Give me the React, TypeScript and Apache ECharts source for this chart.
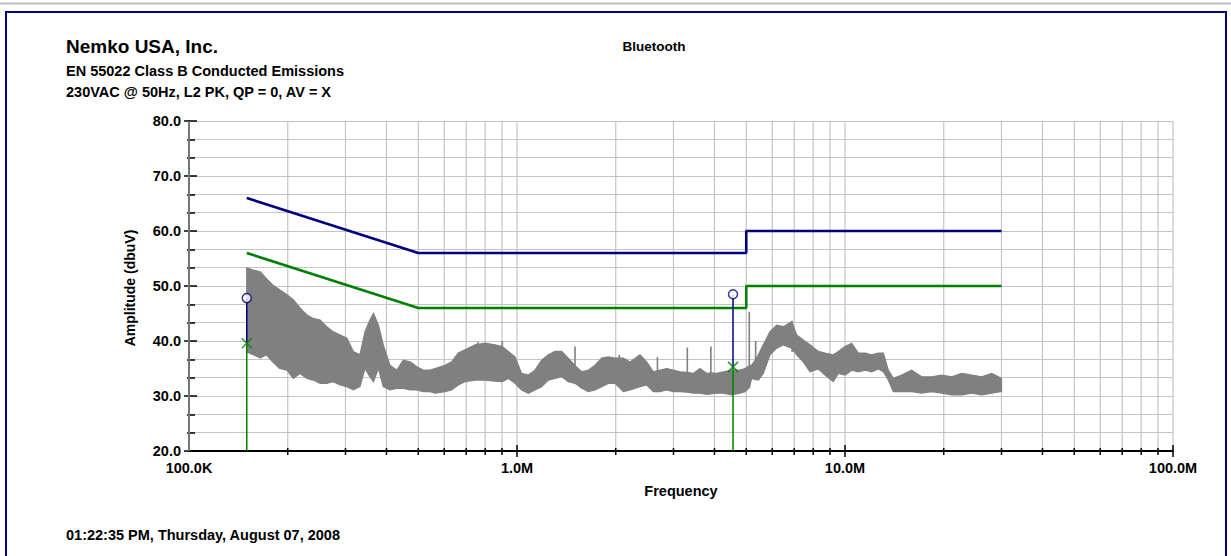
import React, { useEffect, useRef } from "react";
import * as echarts from "echarts";

const FONT = '"Liberation Sans", Arial, Helvetica, sans-serif';
const NAVY = "#000080";
const GREEN = "#008000";
const GRID = "#c4c4c4";
const TRACE = "#808080";

// Header and footer texts
const titleText = "Nemko USA, Inc.";
const subtitleLines = ["EN 55022 Class B Conducted Emissions", "230VAC @ 50Hz, L2 PK, QP = 0, AV = X"];
const centerTitle = "Bluetooth";
const footerText = "01:22:35 PM, Thursday, August 07, 2008";
const yAxisName = "Amplitude (dbuV)";
const xAxisName = "Frequency";

// Frequency axis (Hz), log scale
const xMin = 1e5;
const xMax = 1e8;
const xTickValues = [1e5, 1e6, 1e7, 1e8];
const xTickLabels = ["100.0K", "1.0M", "10.0M", "100.0M"];
const xGridFreqs = [
  1e5, 2e5, 3e5, 4e5, 5e5, 6e5, 7e5, 8e5, 9e5,
  1e6, 2e6, 3e6, 4e6, 5e6, 6e6, 7e6, 8e6, 9e6,
  1e7, 2e7, 3e7, 4e7, 5e7, 6e7, 7e7, 8e7, 9e7,
  1e8,
];

// Amplitude axis (dBuV)
const yMin = 20;
const yMax = 80;
const yStep = 10;

// EN 55022 Class B limits: quasi-peak and average
const qpLimitFreq = [150000, 500000, 5000000, 5000000, 30000000];
const qpLimitLevel = [66, 56, 56, 60, 60];
const avLimitFreq = [150000, 500000, 5000000, 5000000, 30000000];
const avLimitLevel = [56, 46, 46, 50, 50];

// Final measurements: quasi-peak (circle) and average (cross)
const markerFreq = [150000, 4556000];
const markerQp = [47.8, 48.5];
const markerAv = [39.6, 35.3];

// Peak scan envelope (MHz, upper dBuV, lower dBuV)
const traceFreqMHz = [
  0.150, 0.157, 0.165, 0.172, 0.180, 0.189, 0.199, 0.208, 0.218, 0.229,
  0.239, 0.251, 0.263, 0.275, 0.289, 0.303, 0.317, 0.332, 0.344, 0.356,
  0.365, 0.378, 0.391, 0.410, 0.430, 0.450, 0.472, 0.495, 0.518, 0.543,
  0.562, 0.603, 0.632, 0.662, 0.694, 0.745, 0.799, 0.857, 0.902, 0.941,
  0.986, 1.033, 1.083, 1.134, 1.189, 1.246, 1.306, 1.369, 1.433, 1.503,
  1.575, 1.650, 1.729, 1.812, 1.898, 1.989, 2.109, 2.211, 2.371, 2.485,
  2.604, 2.729, 2.860, 2.997, 3.140, 3.306, 3.448, 3.614, 3.788, 3.904,
  4.063, 4.256, 4.514, 4.786, 4.956, 5.108, 5.194, 5.317, 5.442, 5.636,
  5.907, 6.192, 6.485, 6.879, 7.124, 7.463, 7.822, 8.291, 8.690, 9.210,
  9.541, 10.00, 10.48, 10.98, 11.51, 12.06, 12.64, 13.09, 13.55, 14.04,
  14.89, 15.97, 17.13, 18.38, 19.72, 21.15, 22.69, 24.34, 26.11, 28.01,
  30.00,
];
const traceHigh = [
  53.3, 52.9, 52.6, 51.4, 50.2, 49.3, 48.4, 47.5, 46.0, 44.7,
  44.1, 43.8, 42.6, 41.7, 41.1, 40.5, 38.1, 37.5, 41.7, 43.8,
  45.0, 42.9, 39.3, 35.6, 34.7, 36.5, 36.2, 35.3, 34.7, 34.7,
  35.0, 35.6, 36.2, 37.8, 38.4, 39.3, 39.6, 39.3, 39.0, 38.1,
  37.1, 34.1, 33.8, 34.7, 36.5, 37.5, 38.1, 38.1, 36.9, 35.5,
  34.4, 34.7, 35.6, 36.9, 37.1, 36.9, 36.9, 36.2, 37.5, 36.2,
  34.4, 34.7, 35.0, 34.7, 34.4, 34.3, 34.1, 35.0, 34.1, 34.2,
  34.1, 34.4, 34.7, 34.7, 35.0, 35.5, 35.6, 36.5, 37.5, 39.3,
  41.7, 42.9, 42.6, 43.5, 41.1, 40.2, 39.3, 38.1, 37.8, 37.5,
  38.1, 39.0, 39.6, 37.8, 37.8, 37.5, 37.8, 37.8, 34.7, 33.2,
  33.8, 34.7, 33.5, 33.5, 33.8, 33.5, 34.1, 33.8, 33.5, 34.1,
  33.2,
];
const traceLow = [
  38.0, 37.5, 36.9, 37.5, 36.2, 35.0, 34.7, 33.2, 34.1, 33.2,
  32.9, 32.3, 32.3, 32.6, 32.0, 31.7, 31.1, 31.7, 35.0, 33.5,
  32.6, 35.0, 31.7, 31.1, 31.4, 31.4, 31.1, 31.1, 30.8, 30.8,
  30.5, 30.8, 31.1, 32.0, 32.6, 32.9, 32.9, 32.7, 32.6, 33.2,
  32.3, 31.1, 30.5, 31.1, 31.7, 32.9, 33.2, 33.5, 32.6, 32.3,
  31.4, 30.8, 31.1, 31.7, 32.3, 32.3, 30.8, 31.1, 31.7, 32.0,
  30.8, 30.8, 31.1, 30.8, 30.8, 30.7, 30.5, 30.5, 30.3, 30.4,
  30.5, 30.5, 30.2, 30.5, 30.8, 31.5, 33.2, 33.0, 32.9, 34.1,
  37.5, 38.7, 39.3, 38.7, 37.5, 36.2, 34.4, 34.9, 33.8, 32.6,
  34.1, 33.8, 34.7, 34.4, 34.7, 34.4, 34.9, 34.4, 32.9, 30.8,
  30.8, 30.8, 30.5, 30.8, 30.5, 30.2, 30.2, 30.5, 30.2, 30.5,
  30.8,
];

// Narrow-band spikes in the scan (MHz, lower dBuV, upper dBuV)
const spikeFreqMHz = [0.760, 0.902, 1.503, 2.050, 2.680, 3.306, 3.900, 5.108, 5.340, 6.900];
const spikeLow = [33.0, 33.0, 32.5, 32.0, 31.0, 31.0, 31.0, 31.5, 33.0, 38.0];
const spikeHigh = [39.8, 40.0, 39.0, 37.5, 37.1, 38.8, 39.0, 45.3, 40.0, 43.7];

function isMajorDecade(f: number): boolean {
  return xTickValues.some((t) => Math.abs(Math.log10(f) - Math.log10(t)) < 1e-6);
}

function buildOption(): echarts.EChartsCoreOption {
  const textStyle = (size: number) => ({
    fontFamily: FONT,
    fontWeight: "bold" as const,
    fontSize: size,
    fill: "#000",
  });

  const graphic: any[] = [
    { type: "line", shape: { x1: 0, y1: 3.5, x2: 1231, y2: 3.5 }, style: { stroke: "#c0c0c0", lineWidth: 2 }, silent: true },
    { type: "rect", shape: { x: 6, y: 12, width: 1220, height: 600 }, style: { fill: "none", stroke: NAVY, lineWidth: 2 }, silent: true },
    { type: "text", x: 66, y: 46, style: { ...textStyle(19), text: titleText, verticalAlign: "middle" } },
    { type: "text", x: 66, y: 70.8, style: { ...textStyle(14.5), text: subtitleLines[0], verticalAlign: "middle" } },
    { type: "text", x: 66, y: 91.5, style: { ...textStyle(14.5), text: subtitleLines[1], verticalAlign: "middle" } },
    { type: "text", x: 654, y: 46.2, style: { ...textStyle(13.5), text: centerTitle, align: "center", verticalAlign: "middle" } },
    { type: "text", x: 66, y: 534.8, style: { ...textStyle(14.5), text: footerText, verticalAlign: "middle" } },
    { type: "text", x: 681, y: 490.5, style: { ...textStyle(14.5), text: xAxisName, align: "center", verticalAlign: "middle" } },
    {
      type: "text",
      x: 130,
      y: 288,
      rotation: Math.PI / 2,
      style: { ...textStyle(14), text: yAxisName, align: "center", verticalAlign: "middle" },
    },
  ];

  const labelStyle = { fontFamily: FONT, fontWeight: "bold" as const, fontSize: 14.5, color: "#000" };

  const limitSeries = (freq: number[], level: number[], color: string, name: string) => ({
    name,
    type: "line",
    data: freq.map((f, i) => [f, level[i]]),
    symbol: "none",
    lineStyle: { color, width: 2.6 },
    z: 6,
  });

  const markerLineSeries: any[] = [];
  markerFreq.forEach((f, i) => {
    markerLineSeries.push({
      type: "line",
      data: [[f, markerQp[i]], [f, markerAv[i]]],
      symbol: "none",
      lineStyle: { color: NAVY, width: 1.5 },
      z: 7,
    });
    markerLineSeries.push({
      type: "line",
      data: [[f, markerAv[i]], [f, yMin]],
      symbol: "none",
      lineStyle: { color: GREEN, width: 1.5 },
      z: 7,
    });
  });

  return {
    animation: false,
    backgroundColor: "#ffffff",
    graphic,
    grid: { left: 189, right: 58, top: 121, bottom: 105, containLabel: false },
    xAxis: {
      type: "log",
      logBase: 10,
      min: xMin,
      max: xMax,
      axisLine: { show: true, lineStyle: { color: "#000", width: 2 } },
      axisTick: { show: false },
      splitLine: { show: false },
      axisLabel: {
        ...labelStyle,
        margin: 9,
        formatter: (v: number) => {
          const idx = xTickValues.findIndex((t) => Math.abs(Math.log10(v) - Math.log10(t)) < 1e-6);
          return idx >= 0 ? xTickLabels[idx] : "";
        },
      },
    },
    yAxis: [
      {
        type: "value",
        min: yMin,
        max: yMax,
        interval: yStep,
        axisLine: { show: true, lineStyle: { color: "#000", width: 2 } },
        axisTick: { show: true, length: 5, lineStyle: { color: "#000", width: 1.5 } },
        minorTick: { show: true, splitNumber: 3, length: 2, lineStyle: { color: "#000", width: 1.5 } },
        splitLine: { show: true, lineStyle: { color: GRID, width: 1.2 } },
        minorSplitLine: { show: true, lineStyle: { color: GRID, width: 1.2 } },
        axisLabel: { ...labelStyle, margin: 8, formatter: (v: number) => v.toFixed(1) },
      },
      {
        type: "value",
        position: "left",
        min: yMin,
        max: yMax,
        interval: yStep,
        axisLine: { show: false },
        axisTick: { show: true, inside: true, length: 8, lineStyle: { color: "#000", width: 1.5 } },
        minorTick: { show: true, splitNumber: 3, length: 6, lineStyle: { color: "#000", width: 1.5 } },
        splitLine: { show: false },
        axisLabel: { show: false },
      },
    ],
    series: [
      {
        // vertical log grid lines at 1..9 x each decade
        type: "custom",
        data: xGridFreqs.map((f) => [f, yMin]),
        encode: { x: 0, y: 1 },
        silent: true,
        z: 1,
        renderItem: (_p: any, api: any) => {
          const f = api.value(0);
          const top = api.coord([f, yMax]);
          const bot = api.coord([f, yMin]);
          return {
            type: "line",
            shape: { x1: top[0], y1: top[1], x2: bot[0], y2: bot[1] },
            style: { stroke: GRID, lineWidth: 1.2 },
          };
        },
      },
      {
        // frequency ticks crossing the bottom axis
        type: "custom",
        data: xGridFreqs.slice(1).map((f) => [f, yMin]),
        encode: { x: 0, y: 1 },
        silent: true,
        z: 9,
        renderItem: (_p: any, api: any) => {
          const f = api.value(0);
          const p = api.coord([f, yMin]);
          const major = isMajorDecade(f);
          return {
            type: "line",
            shape: { x1: p[0], y1: p[1] - (major ? 6 : 3), x2: p[0], y2: p[1] + (major ? 6 : 4) },
            style: { stroke: "#000", lineWidth: 1.5 },
          };
        },
      },
      {
        // peak scan band
        type: "custom",
        data: [[traceFreqMHz[0] * 1e6, traceHigh[0]]],
        encode: { x: 0, y: 1 },
        silent: true,
        z: 3,
        renderItem: (_p: any, api: any) => {
          const pts: number[][] = [];
          for (let i = 0; i < traceFreqMHz.length; i++) pts.push(api.coord([traceFreqMHz[i] * 1e6, traceHigh[i]]));
          for (let i = traceFreqMHz.length - 1; i >= 0; i--) pts.push(api.coord([traceFreqMHz[i] * 1e6, traceLow[i]]));
          return {
            type: "polygon",
            shape: { points: pts },
            style: { fill: TRACE, stroke: TRACE, lineWidth: 1.2, lineJoin: "miter" },
          };
        },
      },
      {
        // narrow-band spikes
        type: "custom",
        data: spikeFreqMHz.map((f, i) => [f * 1e6, spikeLow[i], spikeHigh[i]]),
        encode: { x: 0, y: [1, 2] },
        silent: true,
        z: 3,
        renderItem: (_p: any, api: any) => {
          const a = api.coord([api.value(0), api.value(1)]);
          const b = api.coord([api.value(0), api.value(2)]);
          return {
            type: "line",
            shape: { x1: a[0], y1: a[1], x2: b[0], y2: b[1] },
            style: { stroke: TRACE, lineWidth: 1.6 },
          };
        },
      },
      limitSeries(qpLimitFreq, qpLimitLevel, NAVY, "QP limit"),
      limitSeries(avLimitFreq, avLimitLevel, GREEN, "AV limit"),
      ...markerLineSeries,
      {
        type: "scatter",
        data: markerFreq.map((f, i) => [f, markerQp[i]]),
        symbol: "circle",
        symbolSize: 9,
        itemStyle: { color: "#ffffff", borderColor: NAVY, borderWidth: 1.5 },
        z: 8,
      },
      {
        type: "scatter",
        data: markerFreq.map((f, i) => [f, markerAv[i]]),
        symbol: "path://M0 0L10 10M10 0L0 10",
        symbolSize: 10,
        itemStyle: { color: "transparent", borderColor: GREEN, borderWidth: 1.5 },
        z: 8,
      },
    ],
  };
}

export default function App() {
  const ref = useRef<HTMLDivElement>(null);
  useEffect(() => {
    if (!ref.current) return;
    const chart = echarts.init(ref.current, undefined, { renderer: "svg" });
    chart.setOption(buildOption());
    return () => chart.dispose();
  }, []);
  return (
    <div
      ref={ref}
      style={{ position: "fixed", left: 0, top: 0, width: 1231, height: 556, background: "#fff" }}
    />
  );
}
